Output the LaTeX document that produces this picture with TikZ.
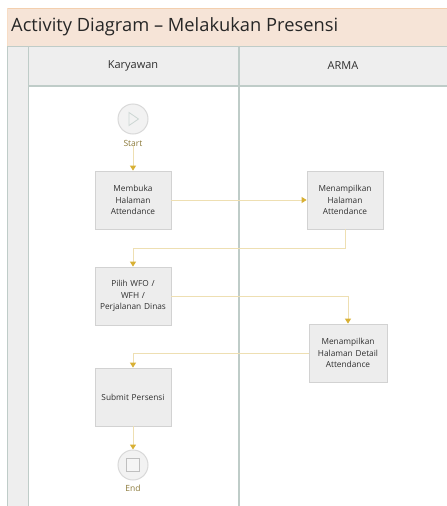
\documentclass[tikz,border=0pt]{standalone}
\usepackage{fontspec}
\setmainfont{Open Sans}
\usetikzlibrary{arrows.meta,shadows}
\definecolor{titlefill}{HTML}{F6E4D7}
\definecolor{titleline}{HTML}{F3CFAE}
\definecolor{headfill}{HTML}{EEEEEE}
\definecolor{laneline}{HTML}{BFCCC8}
\definecolor{boxfill}{HTML}{EDEDED}
\definecolor{boxline}{HTML}{D2D2D2}
\definecolor{flowline}{HTML}{EEDFB2}
\definecolor{flowtip}{HTML}{D8B034}
\definecolor{labelcol}{HTML}{8C7A3A}
\definecolor{txtcol}{HTML}{2E2E2E}
\tikzset{
  actbox/.style={draw=boxline, fill=boxfill, line width=0.8pt, minimum width=76pt, minimum height=58pt,
    text width=74pt, align=center, font=\fontsize{8.3}{11.5}\selectfont, text=txtcol, inner sep=1pt,
    drop shadow={shadow xshift=0.6pt, shadow yshift=-1.2pt, fill=black!25, opacity=0.6}},
  evcircle/.style={circle, draw=black!15, fill=black!5, line width=1pt, minimum size=30pt, inner sep=0pt},
  evlabel/.style={font=\fontsize{8.5}{9}\selectfont, text=labelcol, inner sep=0pt},
  flow/.style={draw=flowline, line width=1pt, -{Triangle[width=6pt,length=5pt,color=flowtip]}},
  lanehead/.style={font=\fontsize{11}{13}\selectfont, text=txtcol, inner sep=0pt}
}
\begin{document}
\begin{tikzpicture}[x=1pt,y=-1pt]
\useasboundingbox (0,0) rectangle (447,506);
\fill[white] (0,0) rectangle (447,506);
% title bar
\fill[titlefill] (7,8) rectangle (447,46);
\draw[titleline, line width=1.2pt] (7,8.5) -- (447,8.5);
\draw[titleline!70, line width=0.6pt] (7.3,8) -- (7.3,46);
\node[anchor=west, font=\fontsize{18.3}{21}\selectfont, text=black!85, inner sep=0pt] (title) at (11,27) {Activity Diagram -- Melakukan Presensi};
% header row
\fill[headfill] (7,46) rectangle (447,86);
\fill[headfill] (7,86) rectangle (28,506);
\draw[laneline, line width=1pt] (7,46) -- (447,46);
\draw[laneline, line width=1.2pt] (28,86) -- (447,86);
\draw[laneline, line width=1pt] (7.5,46) -- (7.5,506);
\draw[laneline, line width=1pt] (28,46) -- (28,506);
\draw[laneline, line width=1.2pt] (239,46) -- (239,506);
\node[lanehead] (h1) at (133,66) {Karyawan};
\node[lanehead] (h2) at (343,66) {ARMA};
% start
\node[evcircle] (start) at (133,119) {};
\draw[laneline!80, line width=0.8pt] (129,112.5) -- (138.5,119) -- (129,125.5) -- cycle;
\node[evlabel] (startlbl) at (133,143) {Start};
% activities
\node[actbox] (m1) at (133,200) {Membuka\\Halaman\\Attendance};
\node[actbox] (a1) at (345,200) {Menampilkan\\Halaman\\Attendance};
\node[actbox] (p1) at (133,296) {Pilih WFO /\\WFH /\\Perjalanan Dinas};
\node[actbox, minimum width=78pt] (a2) at (348,353) {Menampilkan\\Halaman Detail\\Attendance};
\node[actbox] (s1) at (133,397) {Submit Persensi};
% end
\node[evcircle] (endc) at (133,465) {};
\draw[black!25, line width=0.8pt, fill=black!4] (126.5,458.5) rectangle (139.5,471.5);
\node[evlabel] (endlbl) at (133,488) {End};
% joints
\coordinate (j1) at (345,248);
\coordinate (j2) at (348,296);
\coordinate (j3) at (133,353);
% flows
\draw[flow] (startlbl.south) -- (m1.north);
\draw[flow] (m1.east) -- (a1.west);
\draw[flow] (a1.south) -- (j1) -| (p1.north);
\draw[flow] (p1.east) -- (j2) -- (a2.north);
\draw[flow] (a2.west) -- (j3) -- (s1.north);
\draw[flow] (s1.south) -- (endc.north);
\end{tikzpicture}
\end{document}
